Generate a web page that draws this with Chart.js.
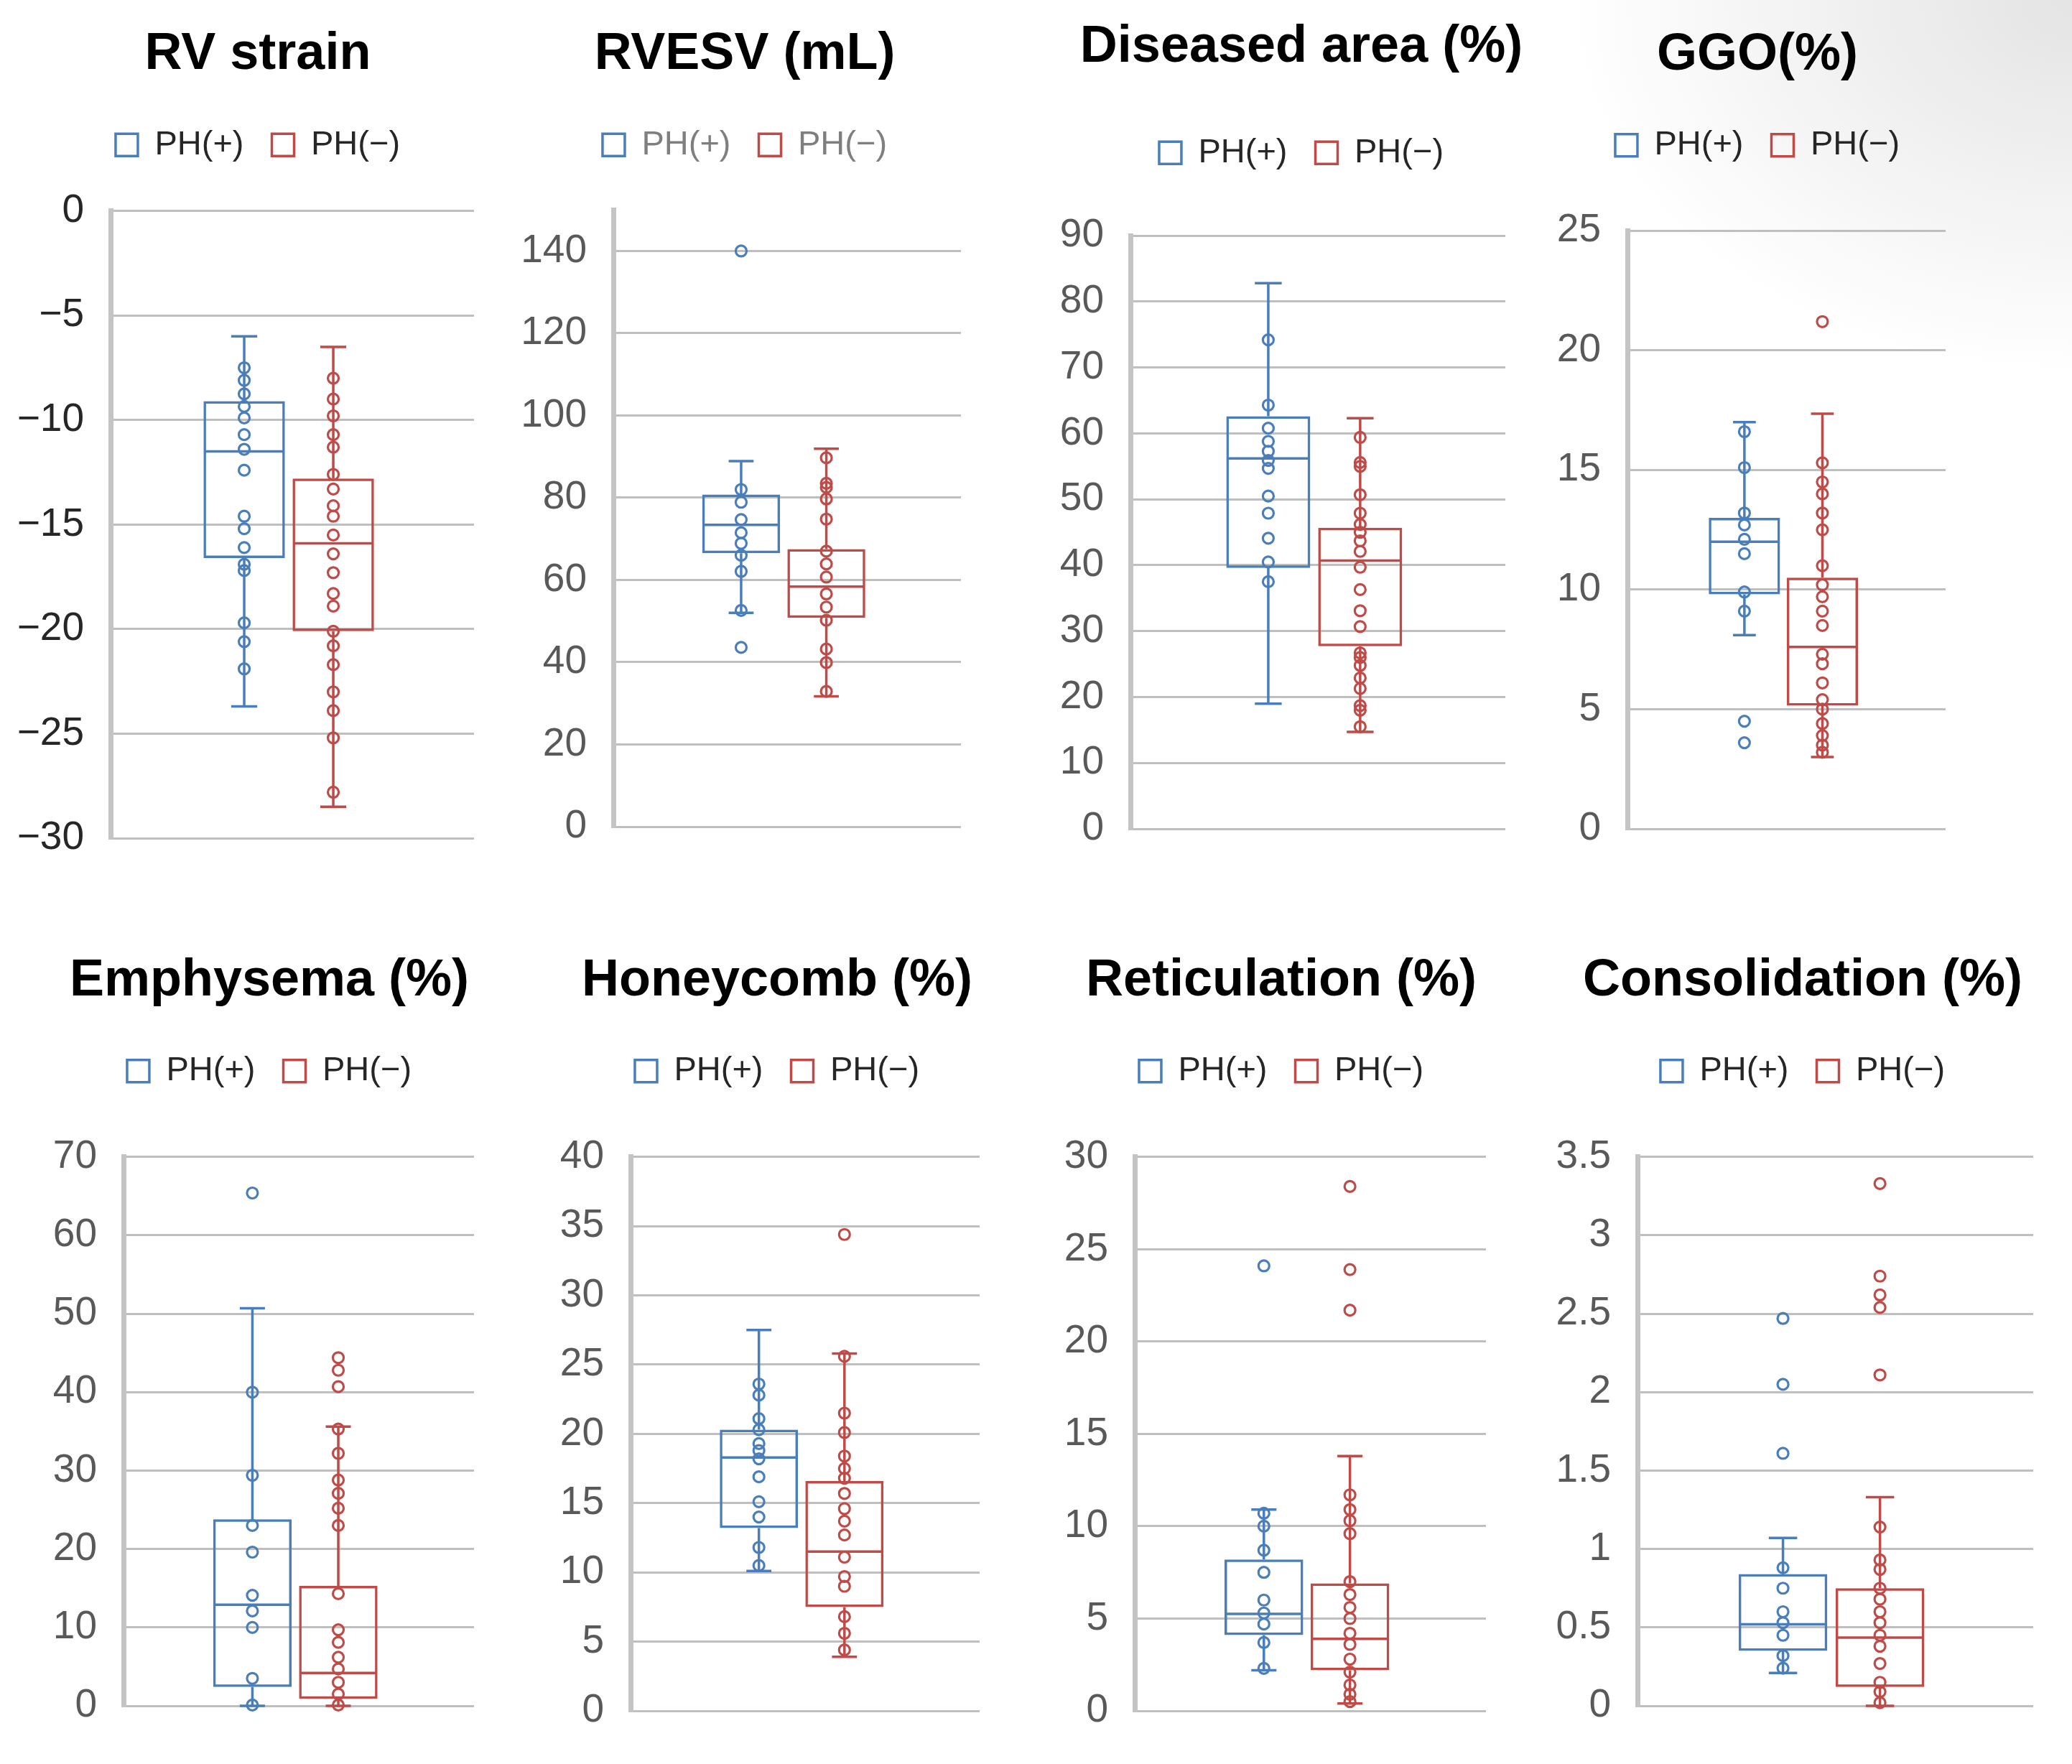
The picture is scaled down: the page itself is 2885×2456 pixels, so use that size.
<!DOCTYPE html>
<html>
<head>
<meta charset="utf-8">
<script src="https://cdn.jsdelivr.net/npm/chart.js@4.4.1/dist/chart.umd.min.js"></script>
<style>
  html, body { margin: 0; padding: 0; }
  body {
    width: 2885px; height: 2456px; position: relative; overflow: hidden;
    background: radial-gradient(ellipse 700px 520px at 100% 0%, #e4e4e4 0%, rgba(255,255,255,0) 100%), #fff;
  }
  .panel { position: absolute; }
</style>
</head>
<body>
<script>
// ---- data ----
const titles = ['RV strain', 'RVESV (mL)', 'Diseased area (%)', 'GGO(%)',
                'Emphysema (%)', 'Honeycomb (%)', 'Reticulation (%)', 'Consolidation (%)'];
const seriesNames = ['PH(+)', 'PH(−)'];
const groupX = [1, 2];

const yMins  = [-30, 0, 0, 0, 0, 0, 0, 0];
const yMaxes = [0, 150, 90, 25, 70, 40, 30, 3.5];
const ySteps = [5, 20, 10, 5, 10, 5, 5, 0.5];

// box stats: [whisker low, Q1, median, Q3, whisker high]
const rvStrainPlusBox  = [-23.7, -16.6, -11.5, -9.1, -6.0];
const rvStrainPlusPts  = [-7.5, -8.1, -8.75, -9.35, -9.9, -10.7, -11.4, -12.4, -14.6, -15.2, -16.1, -16.9, -17.2, -19.7, -20.6, -21.9];
const rvStrainMinusBox = [-28.5, -20.1, -15.9, -12.8, -6.5];
const rvStrainMinusPts = [-8.0, -9.0, -9.8, -10.7, -11.3, -12.6, -13.3, -14.1, -14.6, -15.5, -16.4, -17.3, -18.3, -18.9, -20.1, -20.8, -21.7, -23.0, -23.9, -25.2, -27.8];

const rvesvPlusBox  = [52.0, 66.5, 73.4, 80.8, 88.9];
const rvesvPlusPts  = [140, 82.0, 78.9, 74.7, 71.5, 68.9, 66.0, 62.1, 52.6, 43.6];
const rvesvMinusBox = [31.7, 50.8, 58.4, 67.5, 91.9];
const rvesvMinusPts = [89.7, 83.5, 82.5, 79.7, 74.8, 67.0, 63.9, 60.7, 56.6, 53.4, 50.2, 43.2, 39.9, 32.9];

const diseasedPlusBox  = [19.0, 39.6, 56.2, 62.6, 82.8];
const diseasedPlusPts  = [74.2, 64.3, 60.8, 58.8, 57.3, 55.9, 54.7, 50.5, 47.9, 44.1, 40.5, 37.5];
const diseasedMinusBox = [14.7, 27.7, 40.7, 45.7, 62.3];
const diseasedMinusPts = [59.4, 55.6, 55.0, 50.7, 47.9, 46.2, 45.0, 43.7, 42.1, 39.7, 36.3, 33.1, 30.7, 26.7, 26.0, 24.8, 22.9, 21.3, 18.7, 18.0, 15.5];

const ggoPlusBox  = [8.1, 9.8, 12.0, 13.0, 17.0];
const ggoPlusPts  = [16.6, 15.1, 13.2, 12.7, 12.1, 11.5, 9.9, 9.1, 4.5, 3.6];
const ggoMinusBox = [3.0, 5.15, 7.6, 10.5, 17.35];
const ggoMinusPts = [21.2, 15.3, 14.5, 14.0, 13.2, 12.5, 11.0, 10.2, 9.7, 9.1, 8.5, 7.3, 6.9, 6.1, 5.4, 5.0, 4.4, 3.9, 3.5, 3.2];

const emphysemaPlusBox  = [0.0, 2.4, 12.9, 23.8, 50.7];
const emphysemaPlusPts  = [65.4, 40.0, 29.4, 23.0, 19.6, 14.1, 12.1, 10.0, 3.5, 0.1];
const emphysemaMinusBox = [0.0, 0.9, 4.2, 15.3, 35.6];
const emphysemaMinusPts = [44.4, 42.8, 40.7, 35.3, 32.2, 28.8, 27.1, 25.2, 23.0, 14.3, 9.7, 8.1, 6.2, 4.7, 3.0, 1.5, 0.1];

const honeycombPlusBox  = [10.1, 13.2, 18.3, 20.3, 27.5];
const honeycombPlusPts  = [23.6, 22.8, 21.1, 20.3, 19.3, 18.8, 18.2, 16.9, 15.1, 14.0, 11.8, 10.5];
const honeycombMinusBox = [3.9, 7.5, 11.5, 16.6, 25.8];
const honeycombMinusPts = [34.4, 25.6, 21.5, 20.1, 18.4, 17.5, 16.8, 15.7, 14.6, 13.7, 12.7, 11.1, 9.7, 9.0, 6.8, 5.6, 4.4];

const reticPlusBox  = [2.2, 4.1, 5.25, 8.2, 10.9];
const reticPlusPts  = [24.1, 10.7, 10.0, 8.7, 7.5, 6.0, 5.3, 4.7, 3.7, 2.3];
const reticMinusBox = [0.4, 2.2, 3.9, 6.9, 13.8];
const reticMinusPts = [28.4, 23.9, 21.7, 11.7, 10.9, 10.3, 9.6, 7.0, 6.3, 5.6, 5.0, 4.2, 3.6, 2.8, 2.1, 1.4, 0.9, 0.5];

const consolPlusBox  = [0.21, 0.35, 0.52, 0.84, 1.07];
const consolPlusPts  = [2.47, 2.05, 1.61, 0.88, 0.75, 0.60, 0.53, 0.45, 0.32, 0.24];
const consolMinusBox = [0.0, 0.12, 0.435, 0.75, 1.33];
const consolMinusPts = [3.33, 2.74, 2.62, 2.54, 2.11, 1.14, 0.93, 0.87, 0.75, 0.68, 0.60, 0.53, 0.45, 0.38, 0.27, 0.15, 0.09, 0.02];

const boxes = [
  [rvStrainPlusBox, rvStrainMinusBox], [rvesvPlusBox, rvesvMinusBox],
  [diseasedPlusBox, diseasedMinusBox], [ggoPlusBox, ggoMinusBox],
  [emphysemaPlusBox, emphysemaMinusBox], [honeycombPlusBox, honeycombMinusBox],
  [reticPlusBox, reticMinusBox], [consolPlusBox, consolMinusBox]
];
const points = [
  [rvStrainPlusPts, rvStrainMinusPts], [rvesvPlusPts, rvesvMinusPts],
  [diseasedPlusPts, diseasedMinusPts], [ggoPlusPts, ggoMinusPts],
  [emphysemaPlusPts, emphysemaMinusPts], [honeycombPlusPts, honeycombMinusPts],
  [reticPlusPts, reticMinusPts], [consolPlusPts, consolMinusPts]
];

// ---- look & layout ----
const FONT = '"Liberation Sans", Arial, sans-serif';
const colors = ['#4a7ebb', '#be4b48'];
const tickColors = ['#262626', '#595959', '#595959', '#595959', '#595959', '#595959', '#595959', '#595959'];
const legendColors = ['#262626', '#7f7f7f', '#262626', '#262626', '#262626', '#262626', '#262626', '#262626'];

// canvas left/right, plot left/right, title y, legend y, plot top/bottom (page px)
const frames = [
  {l: 20,   r: 698,  pl: 154,  pr: 660,  ty: 76,   ly: 201.5, pt: 293.5,  pb: 1197},
  {l: 720,  r: 1354, pl: 854,  pr: 1338, ty: 76,   ly: 201.5, pt: 292,    pb: 1181},
  {l: 1470, r: 2154, pl: 1574, pr: 2096, ty: 66,   ly: 212.5, pt: 328,    pb: 1184},
  {l: 2160, r: 2734, pl: 2266, pr: 2709, ty: 77,   ly: 202,   pt: 321,    pb: 1184},
  {l: 70,   r: 680,  pl: 172,  pr: 660,  ty: 1366, ly: 1491,  pt: 1610.6, pb: 2404.7},
  {l: 775,  r: 1389, pl: 878,  pr: 1364, ty: 1366, ly: 1491,  pt: 1610.6, pb: 2412},
  {l: 1478, r: 2090, pl: 1580, pr: 2069, ty: 1366, ly: 1491,  pt: 1610.6, pb: 2412},
  {l: 2160, r: 2860, pl: 2280, pr: 2831, ty: 1366, ly: 1491,  pt: 1610.6, pb: 2404.7}
];

const TITLE_SIZE = 72, LEGEND_SIZE = 47, LEGEND_PAD = 39, BOTTOM_PAD = 40;
const X_MIN = -0.5, X_MAX = 3.58;   // horizontal room around the two groups

// whiskers, medians and the individual points, placed on the bar elements
const boxPlot = {
  id: 'boxPlot',
  afterDatasetsDraw(chart) {
    const ctx = chart.ctx;
    const y = chart.scales.y;
    chart.data.datasets.forEach((ds, i) => {
      const bar = chart.getDatasetMeta(i).data[0];
      const [lo, q1, med, q3, hi] = ds.stats;
      const x = bar.x, half = bar.width / 2, cap = bar.width * 0.16;
      ctx.save();
      ctx.strokeStyle = ds.borderColor;
      ctx.lineWidth = 3.5;
      ctx.beginPath();
      ctx.moveTo(x, y.getPixelForValue(hi)); ctx.lineTo(x, y.getPixelForValue(q3));
      ctx.moveTo(x, y.getPixelForValue(q1)); ctx.lineTo(x, y.getPixelForValue(lo));
      ctx.moveTo(x - cap, y.getPixelForValue(hi)); ctx.lineTo(x + cap, y.getPixelForValue(hi));
      ctx.moveTo(x - cap, y.getPixelForValue(lo)); ctx.lineTo(x + cap, y.getPixelForValue(lo));
      ctx.moveTo(x - half + 2, y.getPixelForValue(med)); ctx.lineTo(x + half - 2, y.getPixelForValue(med));
      ctx.stroke();
      ctx.lineWidth = 3.2;
      ds.points.forEach(v => {
        ctx.beginPath();
        ctx.arc(x, y.getPixelForValue(v), 7.5, 0, Math.PI * 2);
        ctx.stroke();
      });
      ctx.restore();
    });
  }
};

titles.forEach((title, i) => {
  const f = frames[i];
  const top = f.ty - TITLE_SIZE * 0.6;
  const legendTop = f.ly - LEGEND_SIZE / 2 - LEGEND_PAD;
  const titlePadBottom = legendTop - (top + TITLE_SIZE * 1.2);
  const legendBottom = legendTop + LEGEND_SIZE + LEGEND_PAD + 10;
  const w = Math.round(f.r - f.l);
  const h = Math.round(f.pb + BOTTOM_PAD - top);
  const yMin = yMins[i], yMax = yMaxes[i], step = ySteps[i];

  const div = document.createElement('div');
  div.className = 'panel';
  div.style.left = f.l + 'px';
  div.style.top = top + 'px';
  const cv = document.createElement('canvas');
  cv.width = w; cv.height = h;
  cv.style.width = w + 'px'; cv.style.height = h + 'px';
  div.appendChild(cv);
  document.body.appendChild(div);

  new Chart(cv, {
    type: 'bar',
    data: {
      datasets: seriesNames.map((name, s) => ({
        label: name,
        data: [{ x: groupX[s], y: [boxes[i][s][1], boxes[i][s][3]] }],
        stats: boxes[i][s],
        points: points[i][s],
        backgroundColor: 'rgba(255,255,255,0)',
        borderColor: colors[s],
        borderWidth: 3.5,
        borderSkipped: false,
        grouped: false,
        categoryPercentage: 1,
        barPercentage: 0.914
      }))
    },
    options: {
      responsive: false,
      animation: false,
      devicePixelRatio: 1,
      layout: { padding: { top: 0, left: 0, right: 0, bottom: BOTTOM_PAD } },
      plugins: {
        title: {
          display: true, text: title, color: '#000',
          font: { family: FONT, size: TITLE_SIZE, weight: 'bold', lineHeight: 1.2 },
          padding: { top: 0, bottom: titlePadBottom }
        },
        legend: {
          display: true,
          labels: {
            boxWidth: 31, boxHeight: 31, padding: LEGEND_PAD,
            color: legendColors[i], font: { family: FONT, size: LEGEND_SIZE }
          }
        },
        tooltip: { enabled: false }
      },
      scales: {
        x: {
          type: 'linear', position: 'top', min: X_MIN, max: X_MAX, offset: false,
          grid: { display: false, offset: false }, border: { display: false }, ticks: { display: false },
          afterBuildTicks: s => { s.ticks = groupX.map(v => ({ value: v })); },
          afterFit: s => { s.height = f.pt - legendBottom; }
        },
        y: {
          min: yMin, max: yMax,
          ticks: {
            stepSize: step, padding: 37, color: tickColors[i],
            font: { family: FONT, size: 55 },
            callback: v => String(v).replace('-', '−')
          },
          grid: { color: '#bfbfbf', lineWidth: 3, drawTicks: false },
          border: { color: '#c4c4c4', width: 7 },
          afterBuildTicks: s => {
            const ticks = [];
            for (let k = 0; yMin + k * step <= yMax + 1e-9; k++) {
              ticks.push({ value: Math.round((yMin + k * step) * 1000) / 1000 });
            }
            s.ticks = ticks;
          },
          afterFit: s => { s.width = f.pl - f.l; }
        },
        yr: {
          type: 'linear', position: 'right',
          grid: { display: false }, border: { display: false }, ticks: { display: false },
          afterFit: s => { s.width = f.r - f.pr; }
        }
      }
    },
    plugins: [boxPlot]
  });
});
</script>
</body>
</html>
